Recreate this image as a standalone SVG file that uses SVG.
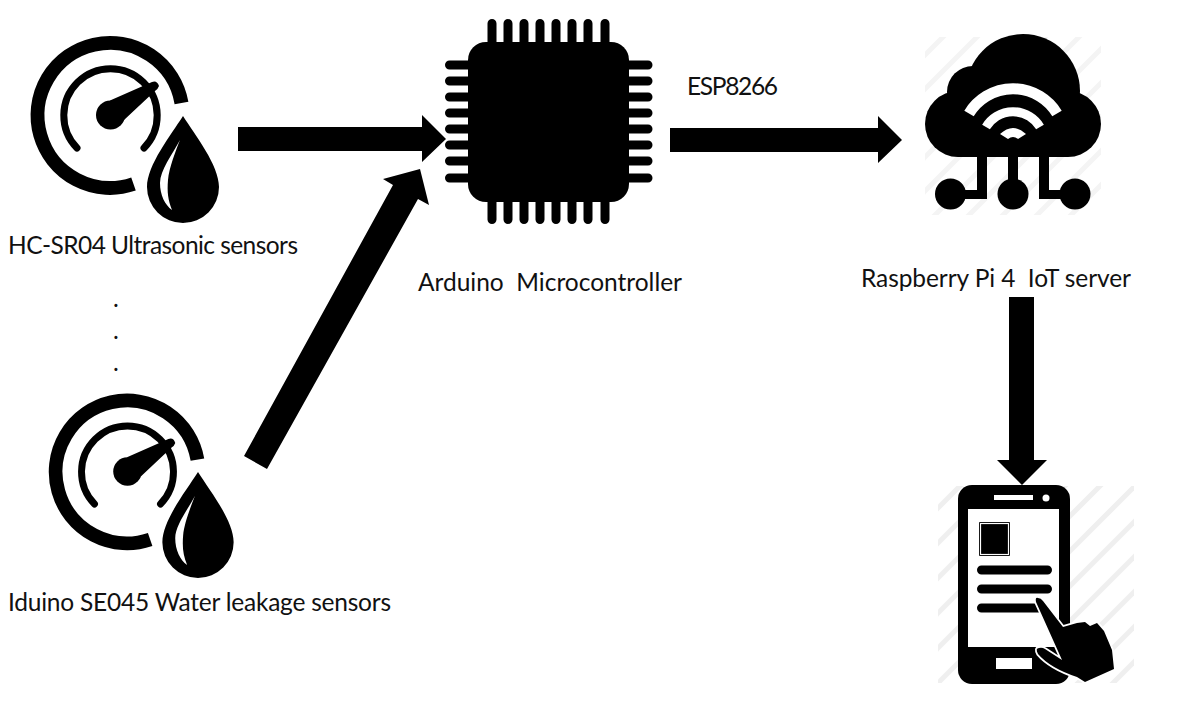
<svg xmlns="http://www.w3.org/2000/svg" width="1199" height="724" viewBox="0 0 1199 724">
<style>
text{font-family:Lato,"Liberation Sans",sans-serif;font-size:24.5px;fill:#111;white-space:pre}
.hatch line{stroke-width:5}
</style>
<defs>
<clipPath id="cloudClip"><rect x="925" y="37" width="176" height="178"/></clipPath>
<clipPath id="phoneClip"><rect x="938" y="486" width="196" height="197"/></clipPath>
<g id="gauge">
<path d="M181.5 103A72.5 72.5 0 1 0 133.5 184" fill="none" stroke="#000" stroke-width="14"/>
<path d="M77 148A46.7 46.7 0 1 1 144 148" fill="none" stroke="#000" stroke-width="7" stroke-linecap="round"/>
<circle cx="110.5" cy="115" r="14.5"/>
<path d="M110 100.500L152 82Q157 80 159 86Q158 89 155 91L124 120Z"/>
</g>
<g id="drop">
<path d="M183 116C195 135 219 165 219 187A36 36 0 0 1 147 187C147 165 171 135 183 116Z"/>
<path d="M180 140C172 155 160 170 160 183C160 195 165 205 172 210C168 200 167 192 168 180C169 168 176 150 180 140Z" fill="#fff"/>
</g>
</defs>
<rect width="1199" height="724" fill="#fff"/>
<g id="sensor-ultrasonic">
<use href="#gauge"/><use href="#drop"/>
<text x="8" y="254" textLength="290">HC-SR04 Ultrasonic sensors</text>
</g>
<g id="ellipsis">
<text x="113" y="307">.</text>
<text x="113" y="339">.</text>
<text x="113" y="371">.</text>
</g>
<g id="sensor-leakage">
<use href="#gauge" transform="translate(127.5 471.5) scale(.985) translate(-110.5 -115)"/>
<use href="#drop" transform="translate(198 472) scale(.99) translate(-183 -116)"/>
<text x="8" y="611" textLength="383">Iduino SE045 Water leakage sensors</text>
</g>
<g id="microcontroller">
<rect x="468" y="42" width="161" height="160" rx="18"/>
<path d="M492 46V23.500M508 46V23.500M524 46V23.500M540 46V23.500M556 46V23.500M572 46V23.500M588 46V23.500M605 46V23.500M492 198V219.500M508 198V219.500M524 198V219.500M540 198V219.500M556 198V219.500M572 198V219.500M588 198V219.500M605 198V219.500M472 65H449.500M472 81H449.500M472 97H449.500M472 113H449.500M472 129H449.500M472 145H449.500M472 161H449.500M472 178H449.500M625 65H648M625 81H648M625 97H648M625 113H648M625 129H648M625 145H648M625 161H648M625 178H648" stroke="#000" stroke-width="9" stroke-linecap="round" fill="none"/>
<text x="418" y="291" textLength="264">Arduino  Microcontroller</text>
</g>
<g id="iot-server">
<g class="hatch" clip-path="url(#cloudClip)" stroke="#f4f4f4">
<line x1="880" y1="100" x2="1080" y2="-100"/><line x1="880" y1="134" x2="1114" y2="-100"/><line x1="880" y1="168" x2="1148" y2="-100"/><line x1="880" y1="202" x2="1182" y2="-100"/><line x1="880" y1="236" x2="1216" y2="-100"/><line x1="880" y1="270" x2="1250" y2="-100"/><line x1="880" y1="304" x2="1284" y2="-100"/><line x1="900" y1="318" x2="1300" y2="-82"/><line x1="934" y1="318" x2="1300" y2="-48"/><line x1="968" y1="318" x2="1300" y2="-14"/>
</g>
<circle cx="1023" cy="91" r="57"/><circle cx="973" cy="92" r="26"/><circle cx="958" cy="124" r="33"/><circle cx="1068" cy="124" r="33"/>
<rect x="958" y="100" width="110" height="57"/>
<g fill="none" stroke="#fff">
<path d="M969 113.500A51.500 51.500 0 0 1 1057 113.500" stroke-width="11"/>
<path d="M986 127A31.500 31.500 0 0 1 1040 127" stroke-width="9"/>
</g>
<path d="M1000 134Q1013 122 1026 134L1018 139Q1013 135 1008 139Z" fill="#fff"/>
<path d="M977 155H987V199H960V190H977ZM1008 155H1018V185H1008ZM1039 155H1049V190H1066V199H1039Z"/>
<circle cx="950.500" cy="194" r="15.500"/><circle cx="1013" cy="194" r="15.500"/><circle cx="1075" cy="194" r="15.500"/>
<text x="861" y="287" textLength="270">Raspberry Pi 4  IoT server</text>
</g>
<g id="phone">
<g class="hatch" clip-path="url(#phoneClip)" stroke="#efefef">
<line x1="900" y1="546" x2="1100" y2="346"/><line x1="900" y1="581" x2="1135" y2="346"/><line x1="900" y1="616" x2="1170" y2="346"/><line x1="900" y1="651" x2="1205" y2="346"/><line x1="900" y1="686" x2="1240" y2="346"/><line x1="900" y1="721" x2="1275" y2="346"/><line x1="925" y1="731" x2="1310" y2="346"/><line x1="960" y1="731" x2="1345" y2="346"/><line x1="995" y1="731" x2="1345" y2="381"/><line x1="1030" y1="731" x2="1345" y2="416"/><line x1="1065" y1="731" x2="1345" y2="451"/>
</g>
<rect x="958" y="485" width="112" height="199" rx="14"/>
<rect x="968" y="509" width="91" height="138" fill="#fff"/>
<rect x="994" y="495" width="39" height="5" fill="#fff"/>
<circle cx="1046" cy="498" r="3.500" fill="#fff"/>
<rect x="996" y="658" width="36" height="11" fill="#fff"/>
<rect x="979" y="522" width="31" height="34" rx="1"/>
<rect x="980.500" y="523.500" width="28" height="31" fill="none" stroke="#fff" stroke-width="1.200"/>
<path d="M981.500 570H1047.500M981.500 589H1047.500M981.500 608H1040" stroke="#000" stroke-width="9" stroke-linecap="round" fill="none"/>
<path d="M1036 602Q1035 597 1038 598Q1041 598 1043 601L1063 627L1077 623L1085 622L1090 626L1097 623L1104 631L1112 650L1114 669L1085 682L1077 677Q1050 668 1038 654Q1035 648 1039 648Q1042 647 1045 649L1062 660Z" stroke="#fff" stroke-width="3.500" paint-order="stroke" stroke-linejoin="round"/>
</g>
<g id="connectors">
<polygon points="238,127 422,127 422,115 446,139 422,162 422,151 238,151"/>
<polygon points="244,456 393,185 383,179 420,169 429,205 418,199 267,469"/>
<polygon points="670,128 878,128 878,116 902,140 878,163 878,152 670,152"/>
<polygon points="1009,297 1034,297 1034,460 1047,460 1022,485 997,460 1009,460"/>
</g>
<g id="connector-label"><text x="687" y="95" textLength="91">ESP8266</text></g>
</svg>
